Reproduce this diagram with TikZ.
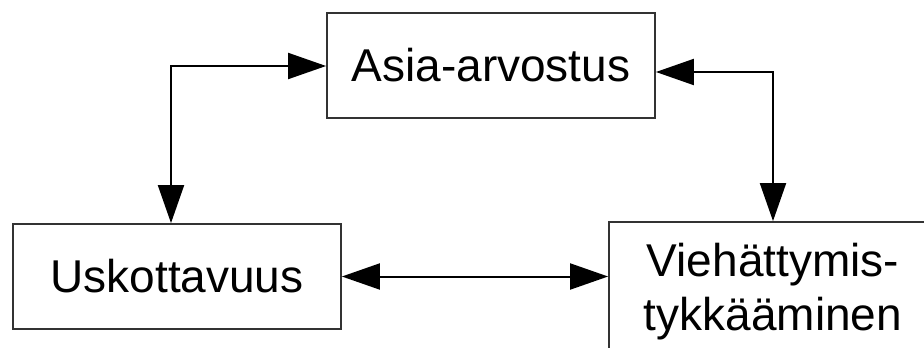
\documentclass[tikz,border=0pt]{standalone}
\usepackage{fontspec}
\setmainfont{Liberation Sans}
\usetikzlibrary{arrows.meta}
\begin{document}
\begin{tikzpicture}[x=1pt,y=-1pt,
  box/.style={draw=black!80, line width=1.8pt, inner sep=0pt, minimum width=328pt, align=center,
    font=\fontsize{46}{54}\selectfont},
  arr/.style={line width=2pt, {Triangle[length=38pt,width=26pt]}-{Triangle[length=38pt,width=26pt]}}]
\useasboundingbox (0,0) rectangle (924,348);
\clip (0,0) rectangle (924,348);
\fill[white] (0,0) rectangle (924,348);
\node[box, minimum height=105pt] (asia) at (491,65.5) {Asia-arvostus};
\node[box, minimum height=105pt] (usk) at (177,276.5) {Uskottavuus};
\node[box, minimum height=140pt] (vie) at (773,292) {Viehättymis-\\tykkääminen};
\coordinate (c1) at (171,66);
\coordinate (c2) at (773,72);
\draw[arr] (c1 -| asia.west) -- (c1) -- (c1 |- usk.north);
\draw[arr] (c2 -| asia.east) -- (c2) -- (c2 |- vie.north);
\draw[arr] (usk.east) -- (usk.east -| vie.west);
\end{tikzpicture}
\end{document}
